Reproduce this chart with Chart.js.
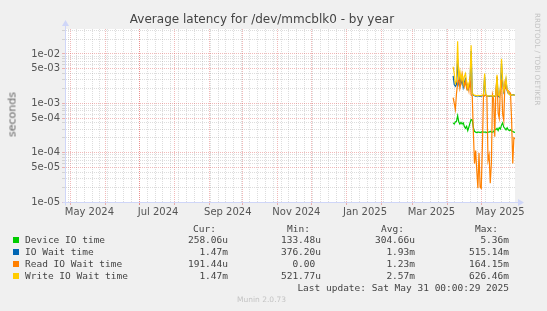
<!DOCTYPE html>
<html><head><meta charset="utf-8">
<script src="https://cdn.jsdelivr.net/npm/chart.js@4/dist/chart.umd.min.js"></script>
<style>
html,body{margin:0;padding:0;background:#f0f0f0;}
#wrap{position:relative;width:547px;height:311px;overflow:hidden;background:#f0f0f0;}
canvas{position:absolute;left:0;top:0;}
.t{position:absolute;white-space:pre;font-family:"DejaVu Sans";color:#555;line-height:1;}
.m{position:absolute;white-space:pre;font-family:"DejaVu Sans Mono";font-size:9.5px;color:#444;line-height:1;}
.sw{position:absolute;width:6px;height:6px;}
</style></head><body>
<div id="wrap">
<canvas id="c" width="547" height="311"></canvas>
<div class="t" style="left:0;width:524px;text-align:center;top:13px;font-size:12px;color:#444;">Average latency for /dev/mmcblk0 - by year</div>
<div class="t" style="left:-18px;top:109px;width:60px;text-align:center;font-size:11px;color:#666;transform:rotate(-90deg);">seconds</div>
<div class="t" style="left:534px;top:13px;font-size:7.2px;color:#c4c4c4;writing-mode:vertical-rl;">RRDTOOL / TOBI OETIKER</div>
<div id="legend"></div>
</div>
<script>
// ---- data (days counted from 1 May 2024) ----
const monthStarts = [0,31,61,92,123,153,184,214,245,276,304,335,365];
const monthLabels = ['May 2024','Jun 2024','Jul 2024','Aug 2024','Sep 2024','Oct 2024','Nov 2024','Dec 2024','Jan 2025','Feb 2025','Mar 2025','Apr 2025','May 2025'];
const days = [340,341,342,343,344,345,346,347,348,349,350,351,352,353,354,355,356,357,358,359,
  360,361,362,363,364,365,366,367,368,369,370,371,372,373,374,375,376,377,378,379,
  380,381,382,383,384,385,386,387,388,389,390,391,392,393,394,395];
const deviceIO = [4.0e-4,3.8e-4,4.2e-4,4.3e-4,5.6e-4,4.2e-4,3.8e-4,4.1e-4,3.8e-4,4.0e-4,
  3.4e-4,3.1e-4,3.4e-4,2.8e-4,3.3e-4,4.0e-4,4.7e-4,4.6e-4,3.2e-4,2.7e-4,
  2.6e-4,2.55e-4,2.6e-4,2.6e-4,2.55e-4,2.6e-4,2.65e-4,2.6e-4,2.6e-4,2.6e-4,
  2.55e-4,2.6e-4,2.6e-4,2.7e-4,2.6e-4,2.6e-4,2.65e-4,3.0e-4,2.9e-4,3.1e-4,
  2.8e-4,3.2e-4,3.0e-4,3.6e-4,4.0e-4,3.3e-4,3.1e-4,2.9e-4,3.2e-4,2.9e-4,
  2.8e-4,2.9e-4,2.75e-4,2.7e-4,2.6e-4,2.58e-4];
const ioWait = [3.6e-3,2.4e-3,2.2e-3,2.4e-3,8.0e-3,2.6e-3,3.4e-3,2.5e-3,3.0e-3,2.1e-3,
  2.7e-3,3.1e-3,2.2e-3,1.9e-3,2.1e-3,2.6e-3,1.15e-2,1.6e-3,1.45e-3,1.42e-3,
  1.4e-3,1.4e-3,1.42e-3,1.4e-3,1.38e-3,1.4e-3,1.42e-3,1.45e-3,3.5e-3,1.45e-3,
  1.4e-3,1.4e-3,1.38e-3,1.4e-3,1.4e-3,1.42e-3,1.4e-3,1.38e-3,1.4e-3,3.4e-3,
  1.4e-3,1.35e-3,1.8e-3,6.5e-3,2.6e-3,1.7e-3,2.0e-3,2.9e-3,1.8e-3,1.6e-3,
  1.55e-3,1.5e-3,1.45e-3,1.5e-3,1.48e-3,1.47e-3];
const readWait = [1.3e-3,1.0e-3,7.5e-4,1.6e-3,2.5e-3,3.5e-3,2.0e-3,2.6e-3,4.0e-3,3.0e-3,
  2.2e-3,2.8e-3,2.0e-3,2.4e-3,1.8e-3,3.5e-3,1.5e-3,1.4e-3,2.5e-4,6.0e-5,
  1.1e-4,4.5e-5,1.9e-5,9.8e-5,2.0e-5,1.9e-5,1.3e-4,1.5e-3,1.4e-3,1.5e-3,
  1.4e-3,7.0e-5,9.0e-5,2.4e-5,6.0e-5,1.5e-3,1.2e-3,2.1e-4,1.8e-3,3.5e-3,
  6.3e-4,5.0e-4,2.0e-3,3.0e-3,6.0e-4,4.5e-4,2.5e-3,2.0e-3,1.9e-3,1.8e-3,
  1.7e-3,1.6e-3,4.5e-4,6.0e-5,2.0e-4,1.9e-4];
const writeWait = [5.5e-3,4.0e-3,2.5e-3,2.8e-3,1.8e-2,3.0e-3,4.5e-3,3.0e-3,3.8e-3,2.5e-3,
  3.5e-3,4.0e-3,2.8e-3,2.0e-3,2.5e-3,3.0e-3,1.5e-2,1.6e-3,1.5e-3,1.45e-3,
  1.45e-3,1.42e-3,1.45e-3,1.44e-3,1.42e-3,1.45e-3,1.46e-3,1.48e-3,4.0e-3,1.5e-3,
  1.42e-3,1.4e-3,1.42e-3,1.4e-3,1.42e-3,1.44e-3,1.4e-3,1.42e-3,1.4e-3,3.8e-3,
  1.5e-3,1.4e-3,2.0e-3,8.0e-3,3.0e-3,1.8e-3,2.2e-3,3.2e-3,1.9e-3,1.6e-3,
  1.5e-3,1.45e-3,1.5e-3,1.48e-3,1.47e-3,1.47e-3];

const seriesNames = ['Device IO time','IO Wait time','Read IO Wait time','Write IO Wait time'];
const seriesColors = ['#00cc00','#0066b3','#ff8000','#ffcc00'];
const curVals = ['258.06u','1.47m','191.44u','1.47m'];
const minVals = ['133.48u','376.20u','0.00 ','521.77u'];
const avgVals = ['304.66u','1.93m','1.23m','2.57m'];
const maxVals = ['5.36m','515.14m','164.15m','626.46m'];
const lastUpdate = 'Last update: Sat May 31 00:00:29 2025';
const muninVersion = 'Munin 2.0.73';

// ---- legend (real text) ----
const lg = document.getElementById('legend');
function addText(cls, txt, left, top, extra) {
  const d = document.createElement('div');
  d.className = cls; d.textContent = txt;
  d.style.left = left + 'px'; d.style.top = top + 'px';
  if (extra) Object.assign(d.style, extra);
  lg.appendChild(d);
  return d;
}
function addRight(cls, txt, right, top, extra) {
  const d = addText(cls, txt, 0, top, extra);
  d.style.left = ''; d.style.right = (547 - right) + 'px';
  return d;
}
const hdrY = 223.5;
addText('m', 'Cur:', 193, hdrY); addText('m', 'Min:', 287, hdrY);
addText('m', 'Avg:', 381, hdrY); addText('m', 'Max:', 475, hdrY);
seriesNames.forEach((n, i) => {
  const y = 235 + i * 12;
  const sw = document.createElement('div');
  sw.className = 'sw'; sw.style.left = '13px'; sw.style.top = (y + 2) + 'px';
  sw.style.background = seriesColors[i]; lg.appendChild(sw);
  addText('m', n, 25, y);
  addRight('m', curVals[i], 228, y);
  addRight('m', minVals[i], 321, y);
  addRight('m', avgVals[i], 415, y);
  addRight('m', maxVals[i], 509, y);
});
addRight('m', lastUpdate, 509, 283);
addText('t', muninVersion, 237, 296, {fontSize: '7.5px', color: '#c4c4c4'});

// ---- ticks ----
const xTickSpecs = [];
monthStarts.forEach(v => xTickSpecs.push({value: v, kind: 'major', label: ''}));
for (let v = -2; v <= 395; v += 7) xTickSpecs.push({value: v, kind: 'minor', label: ''});
monthStarts.forEach((v, i) => { if (i % 2 === 0) xTickSpecs.push({value: v + 16.7, kind: 'label', label: monthLabels[i]}); });
xTickSpecs.sort((a, b) => a.value - b.value);
const xSpecFor = v => xTickSpecs.find(s => Math.abs(s.value - v) < 1e-6);

const yMin = 1e-5, yMax = 0.032;
const yTickVals = [];
for (let e = -5; e <= -2; e++) for (let m = 1; m <= 9; m++) {
  const v = m * Math.pow(10, e);
  if (v <= yMax * 1.0001) yTickVals.push(v);
}
const mant = v => Math.round(v / Math.pow(10, Math.floor(Math.log10(v) + 1e-9)));
const expo = v => Math.floor(Math.log10(v) + 1e-9);

const GRID = 'rgba(143,143,143,0.3)';
const MGRID = 'rgba(222,79,79,0.4)';
const AXIS = '#cfd6f8';

const bgPlugin = {
  id: 'bg',
  beforeDraw(ch) {
    const a = ch.chartArea, c = ch.ctx;
    c.save(); c.fillStyle = '#ffffff';
    c.fillRect(a.left, a.top, a.right - a.left, a.bottom - a.top);
    c.restore();
  }
};
const arrowPlugin = {
  id: 'arrows',
  afterDraw(ch) {
    const a = ch.chartArea, c = ch.ctx;
    c.save(); c.strokeStyle = AXIS; c.fillStyle = AXIS; c.lineWidth = 1;
    const lx = Math.round(a.left) + 0.5, by = Math.round(a.bottom) + 0.5;
    c.beginPath(); c.moveTo(lx, by + 3); c.lineTo(lx, a.top - 4); c.stroke();
    c.beginPath(); c.moveTo(lx - 3.5, a.top - 3); c.lineTo(lx + 3.5, a.top - 3); c.lineTo(lx, a.top - 9); c.closePath(); c.fill();
    c.beginPath(); c.moveTo(lx - 3, by); c.lineTo(a.right + 4, by); c.stroke();
    c.beginPath(); c.moveTo(a.right + 3, by - 3.5); c.lineTo(a.right + 3, by + 3.5); c.lineTo(a.right + 9, by); c.closePath(); c.fill();
    c.restore();
  }
};

const mk = (label, arr, color) => ({
  label, data: days.map((d, i) => ({x: d, y: arr[i]})),
  borderColor: color, backgroundColor: color, borderWidth: 1.2,
  pointRadius: 0, tension: 0, fill: false
});

new Chart(document.getElementById('c'), {
  type: 'line',
  data: {datasets: [
    mk(seriesNames[0], deviceIO, seriesColors[0]),
    mk(seriesNames[1], ioWait, seriesColors[1]),
    mk(seriesNames[2], readWait, seriesColors[2]),
    mk(seriesNames[3], writeWait, seriesColors[3])
  ].reverse()},
  options: {
    responsive: false, animation: false, devicePixelRatio: 1,
    layout: {padding: {left: 0, top: 29, right: 32, bottom: 89}},
    plugins: {legend: {display: false}, tooltip: {enabled: false}, title: {display: false}},
    scales: {
      x: {
        type: 'linear', min: -5, max: 395,
        afterBuildTicks: s => { s.ticks = xTickSpecs.map(t => ({value: t.value})); },
        afterFit: s => { s.height = 20; },
        ticks: {
          autoSkip: false, maxRotation: 0, minRotation: 0, padding: 1,
          font: {family: 'DejaVu Sans', size: 10}, color: '#555',
          callback: v => { const s = xSpecFor(v); return s ? s.label : ''; }
        },
        grid: {
          lineWidth: 1, tickLength: 3,
          color: c => { const s = xSpecFor(c.tick.value); return !s || s.kind === 'label' ? 'rgba(0,0,0,0)' : (s.kind === 'major' ? MGRID : GRID); },
          tickColor: c => { const s = xSpecFor(c.tick.value); return s && s.kind === 'major' ? MGRID : 'rgba(0,0,0,0)'; }
        },
        border: {display: true, color: AXIS, width: 1, dash: [1, 1]}
      },
      y: {
        type: 'logarithmic', min: yMin, max: yMax,
        afterBuildTicks: s => { s.ticks = yTickVals.map(v => ({value: v})); },
        afterFit: s => { s.width = 65; },
        ticks: {
          autoSkip: false, padding: 2,
          font: {family: 'DejaVu Sans', size: 10}, color: '#555',
          callback: v => {
            const m = mant(v), e = expo(v);
            if (m !== 1 && m !== 5) return '';
            return m + 'e-' + String(-e).padStart(2, '0');
          }
        },
        grid: {
          lineWidth: 1, tickLength: 3,
          color: c => { const m = mant(c.tick.value); return (m === 1 || m === 5) ? MGRID : GRID; },
          tickColor: c => { const m = mant(c.tick.value); return (m === 1 || m === 5) ? MGRID : GRID; }
        },
        border: {display: true, color: AXIS, width: 1, dash: [1, 1]}
      }
    }
  },
  plugins: [bgPlugin, arrowPlugin]
});
</script>
</body></html>
